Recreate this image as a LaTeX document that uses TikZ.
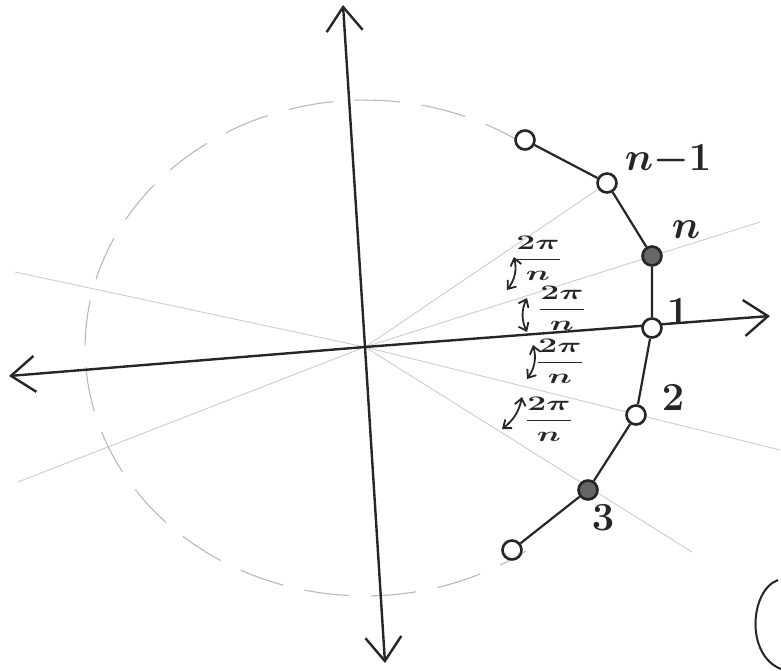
\documentclass[tikz,border=0pt]{standalone}
\usetikzlibrary{arrows.meta}
\newcommand{\angfrac}{\scalebox{1.95}[1.2]{\boldmath$\displaystyle\frac{2\pi}{n}$}}
\begin{document}
\begin{tikzpicture}[x=1pt,y=-1pt,
  axis/.style={line width=2.4pt, black!85, -{Straight Barb[length=24pt,width=36pt,line width=2.4pt]}},
  ray/.style={gray!40, line width=0.9pt},
  rim/.style={gray!55, line width=1.1pt, dash pattern=on 45pt off 22pt},
  edge/.style={line width=2.2pt, black!85},
  vtx/.style={circle, draw=black!85, line width=2.6pt, minimum size=19pt, inner sep=0pt, fill=white},
  vtxd/.style={vtx, fill=black!60},
  lbl/.style={font=\Huge\boldmath, scale=1.6, inner sep=0pt, text=black!85},
  frac/.style={font=\LARGE, inner sep=0pt, text=black!85},
  darr/.style={line width=1.8pt, black!85, {Straight Barb[length=7pt,width=11pt,line width=1.8pt]}-{Straight Barb[length=7pt,width=11pt,line width=1.8pt]}}
]
\useasboundingbox (0,0) rectangle (781,671);

% origin and axis ends
\coordinate (O) at (365,347);
\coordinate (xl) at (9,376);
\coordinate (xr) at (770,316);
\coordinate (yt) at (343,5);
\coordinate (yb) at (385,663);

% faint rays
\coordinate (r1) at (15,272);
\coordinate (r2) at (780,450);
\coordinate (r3) at (18,482);
\coordinate (r4) at (760,222);
\coordinate (r5) at (692,552);
\coordinate (r6) at (600,188);
\draw[ray] (r1) -- (O) -- (r2);
\draw[ray] (r3) -- (O) -- (r4);
\draw[ray] (O) -- (r5);
\draw[ray] (O) -- (r6);

% dashed circle
\draw[rim] plot[domain=55:305, samples=80] ({365+280*cos(\x)}, {348-248*sin(\x)});

% axes
\draw[axis] (O) -- (xl);
\draw[axis] (O) -- (xr);
\draw[axis] (O) -- (yt);
\draw[axis] (O) -- (yb);

% vertices
\node[vtx]  (p0) at (525,140) {};
\node[vtx]  (pm) at (607,183) {};
\node[vtxd] (pn) at (652,256) {};
\node[vtx]  (p1) at (652,328) {};
\node[vtx]  (p2) at (636,415) {};
\node[vtxd] (p3) at (588,490) {};
\node[vtx]  (p4) at (512,550) {};

\draw[edge] (p0) -- (pm) -- (pn) -- (p1) -- (p2) -- (p3) -- (p4);

% vertex labels
\node[lbl] (lm) at (668,160) {$n{-}1$};
\node[lbl] (ln) at (686,230) {$n$};
\node[lbl] (l1) at (678,312) {$1$};
\node[lbl] (l2) at (673,398) {$2$};
\node[lbl] (l3) at (603,518) {$3$};

% angle markers
\coordinate (a1s) at (514,257);
\coordinate (a1e) at (507,290);
\coordinate (a2s) at (527,298);
\coordinate (a2e) at (527,332);
\coordinate (a3s) at (533,345);
\coordinate (a3e) at (527,379);
\coordinate (a4s) at (522,397);
\coordinate (a4e) at (502,429);
\draw[darr] (a1s) to[bend left=25] (a1e);
\draw[darr] (a2s) to[bend right=25] (a2e);
\draw[darr] (a3s) to[bend left=25] (a3e);
\draw[darr] (a4s) to[bend left=20] (a4e);

\node[frac] (f1) at (538,258) {\angfrac};
\node[frac] (f2) at (562,308) {\angfrac};
\node[frac] (f3) at (560,361) {\angfrac};
\node[frac] (f4) at (549,419) {\angfrac};

% partial stroke at bottom right
\draw[line width=2pt, black!85] (778,580) .. controls (750,590) and (745,655) .. (781,669);
\end{tikzpicture}
\end{document}
